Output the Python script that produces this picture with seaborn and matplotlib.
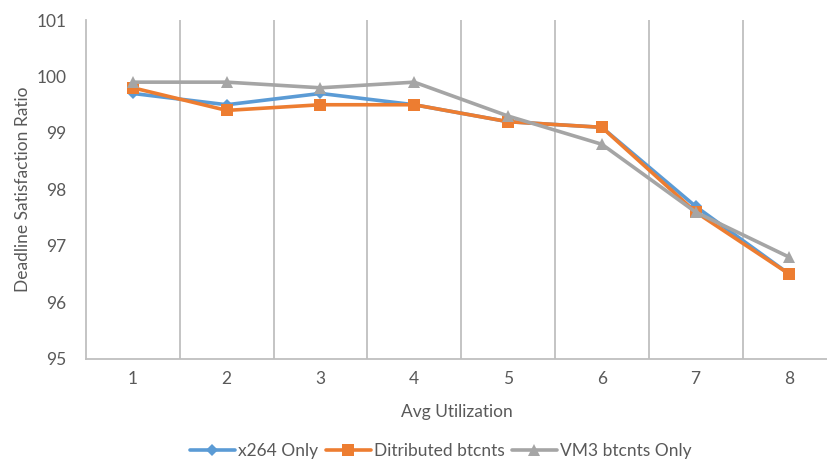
import matplotlib
matplotlib.use("Agg")
import matplotlib.pyplot as plt
import seaborn as sns
import pandas as pd

utilization = [1, 2, 3, 4, 5, 6, 7, 8]
x264_only = [99.7, 99.5, 99.7, 99.5, 99.2, 99.1, 97.7, 96.5]
distributed = [99.8, 99.4, 99.5, 99.5, 99.2, 99.1, 97.6, 96.5]
vm3_only = [99.9, 99.9, 99.8, 99.9, 99.3, 98.8, 97.6, 96.8]
series_names = ["x264 Only", "Ditributed btcnts", "VM3 btcnts Only"]
y_ticks = [95, 96, 97, 98, 99, 100, 101]

rows = []
for name, vals in zip(series_names, [x264_only, distributed, vm3_only]):
    for u, v in zip(utilization, vals):
        rows.append({"Avg Utilization": u, "value": v, "series": name})
df = pd.DataFrame(rows)

sns.set_style("white")
plt.rcParams["font.family"] = ["Lato", "DejaVu Sans"]
text_color = "#595959"
grid_color = "#BFBFBF"

fig = plt.figure(figsize=(8.27, 4.61), dpi=100)
ax = fig.add_axes([0.104, 0.2213, 0.896, 0.7353])

palette = {"x264 Only": "#5B9BD5", "Ditributed btcnts": "#ED7D31", "VM3 btcnts Only": "#A5A5A5"}
markers = {"x264 Only": "D", "Ditributed btcnts": "s", "VM3 btcnts Only": "^"}
sizes_m = {"x264 Only": 6.5, "Ditributed btcnts": 8.5, "VM3 btcnts Only": 8.5}

for name in series_names:
    sub = df[df["series"] == name]
    sns.lineplot(data=sub, x="Avg Utilization", y="value", ax=ax,
                 color=palette[name], marker=markers[name], markersize=sizes_m[name],
                 markeredgewidth=0, linewidth=2.6, label=name)

ax.set_xlim(0.5, 8.4)
ax.set_ylim(95, 101)
ax.set_yticks(y_ticks)
ax.set_xticks(utilization)
ax.set_xticks([u + 0.5 for u in utilization[:-1]], minor=True)
ax.grid(False)
ax.grid(True, which="minor", axis="x", color=grid_color, linewidth=1.3)
ax.tick_params(axis="both", which="both", length=0, labelsize=12.5, colors=text_color, pad=9)
ax.tick_params(axis="y", pad=14)
for s in ["top", "right"]:
    ax.spines[s].set_visible(False)
for s in ["left", "bottom"]:
    ax.spines[s].set_color(grid_color)
    ax.spines[s].set_linewidth(1.3)

ax.set_xlabel("Avg Utilization", fontsize=12.5, color=text_color, labelpad=12)
ax.set_ylabel("Deadline Satisfaction Ratio", fontsize=12.5, color=text_color, labelpad=4)

leg = ax.legend(loc="center", bbox_to_anchor=(0.479, -0.271), ncol=3, frameon=False,
                fontsize=12.5, handlelength=2.6, columnspacing=0.4, handletextpad=0.2,
                borderaxespad=0, borderpad=0)
for t in leg.get_texts():
    t.set_color(text_color)

fig.savefig("out.png", dpi=100)
